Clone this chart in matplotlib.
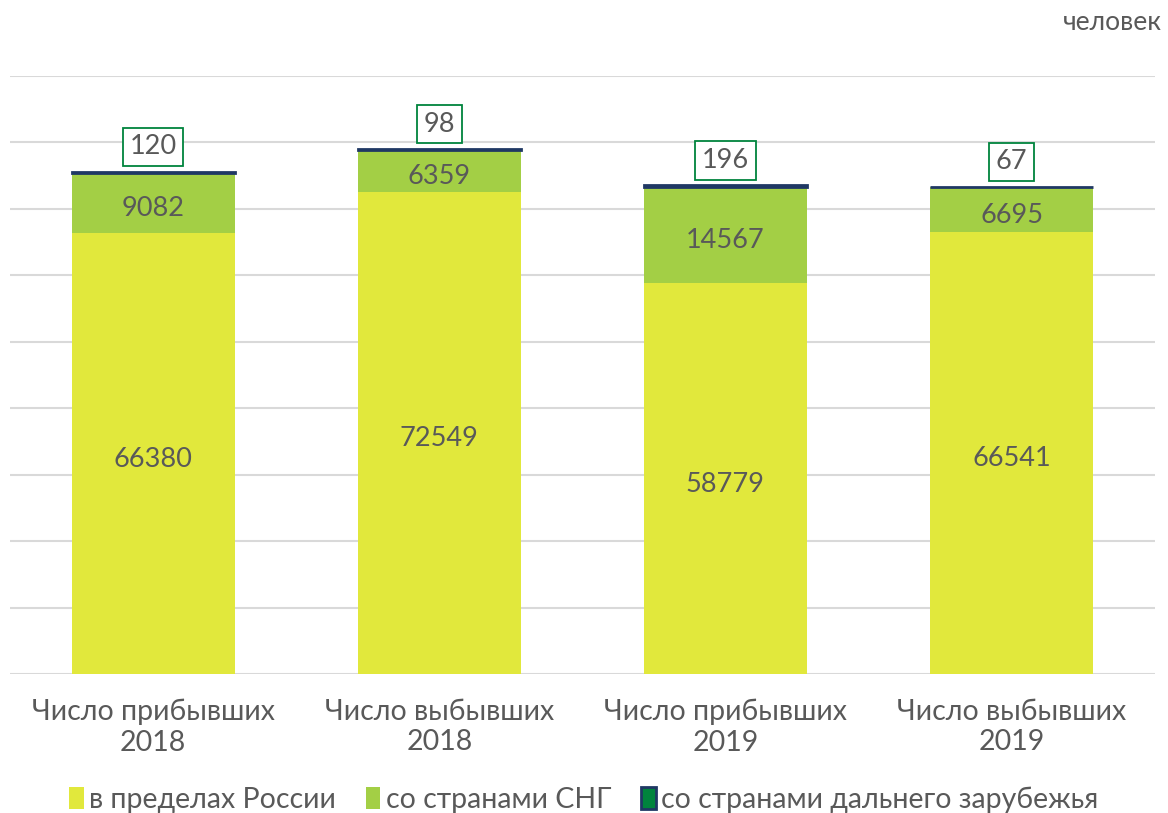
import matplotlib.pyplot as plt
import numpy as np

plt.rcParams['font.family'] = ['Lato', 'DejaVu Sans']

# categories and series
categories = ["Число прибывших\n2018", "Число выбывших\n2018",
              "Число прибывших\n2019", "Число выбывших\n2019"]
russia = [66380, 72549, 58779, 66541]
cis = [9082, 6359, 14567, 6695]
abroad = [120, 98, 196, 67]

series_names = ["в пределах России", "со странами СНГ",
                "со странами дальнего зарубежья"]

text_col = '#595959'
yellow = '#E1E83C'
green = '#A3CF45'
dark_green = '#00843D'
navy = '#1F3864'

fig = plt.figure(figsize=(11.68, 8.13), dpi=100)
ax = fig.add_axes([0.0086, 0.171, 0.980, 0.7355])

x = np.arange(len(categories))
w = 0.57

russia = np.array(russia)
cis = np.array(cis)
abroad = np.array(abroad)

b1 = ax.bar(x, russia, w, color=yellow, label=series_names[0], zorder=3)
b2 = ax.bar(x, cis, w, bottom=russia, color=green, label=series_names[1], zorder=3)
b3 = ax.bar(x, abroad, w, bottom=russia + cis, color=dark_green,
            edgecolor=navy, linewidth=2, label=series_names[2], zorder=3)

for i in range(len(x)):
    ax.annotate(str(russia[i]), (x[i], russia[i] / 2), xytext=(0, -4),
                textcoords='offset points', ha='center', va='center',
                fontsize=19.5, color=text_col, zorder=4)
    ax.annotate(str(cis[i]), (x[i], russia[i] + cis[i] / 2), xytext=(0, -4),
                textcoords='offset points', ha='center', va='center',
                fontsize=19.5, color=text_col, zorder=4)
    top = russia[i] + cis[i] + abroad[i]
    ax.annotate(str(abroad[i]), (x[i], top), xytext=(0, 18),
                textcoords='offset points', ha='center', va='center',
                fontsize=19.5, color=text_col, zorder=4,
                bbox=dict(boxstyle='square,pad=0.25', fc='white',
                          ec=dark_green, lw=1.3))

ax.set_xlim(-0.5, 3.5)
ax.set_ylim(0, 90000)
ax.set_yticks(np.arange(0, 90001, 10000))
ax.yaxis.grid(True, color='#D9D9D9', linewidth=1.5, zorder=0)
ax.set_yticklabels([])
ax.tick_params(axis='y', length=0)
ax.set_xticks(x)
ax.set_xticklabels(categories, fontsize=20.5, color=text_col, linespacing=1.2)
ax.tick_params(axis='x', length=0, pad=18)
for s in ax.spines.values():
    s.set_visible(False)

fig.text(0.995, 0.972, "человек", ha='right', va='center', fontsize=19,
         color=text_col)

leg = fig.legend(handles=[b1, b2, b3], loc='center', bbox_to_anchor=(0.5, 0.016),
                 ncol=3, frameon=False, handlelength=0.5,
                 handleheight=0.8, handletextpad=0.2, columnspacing=1.05,
                 labelcolor=text_col, prop={'size': 20.5})

fig.savefig('out.png', dpi=100)
